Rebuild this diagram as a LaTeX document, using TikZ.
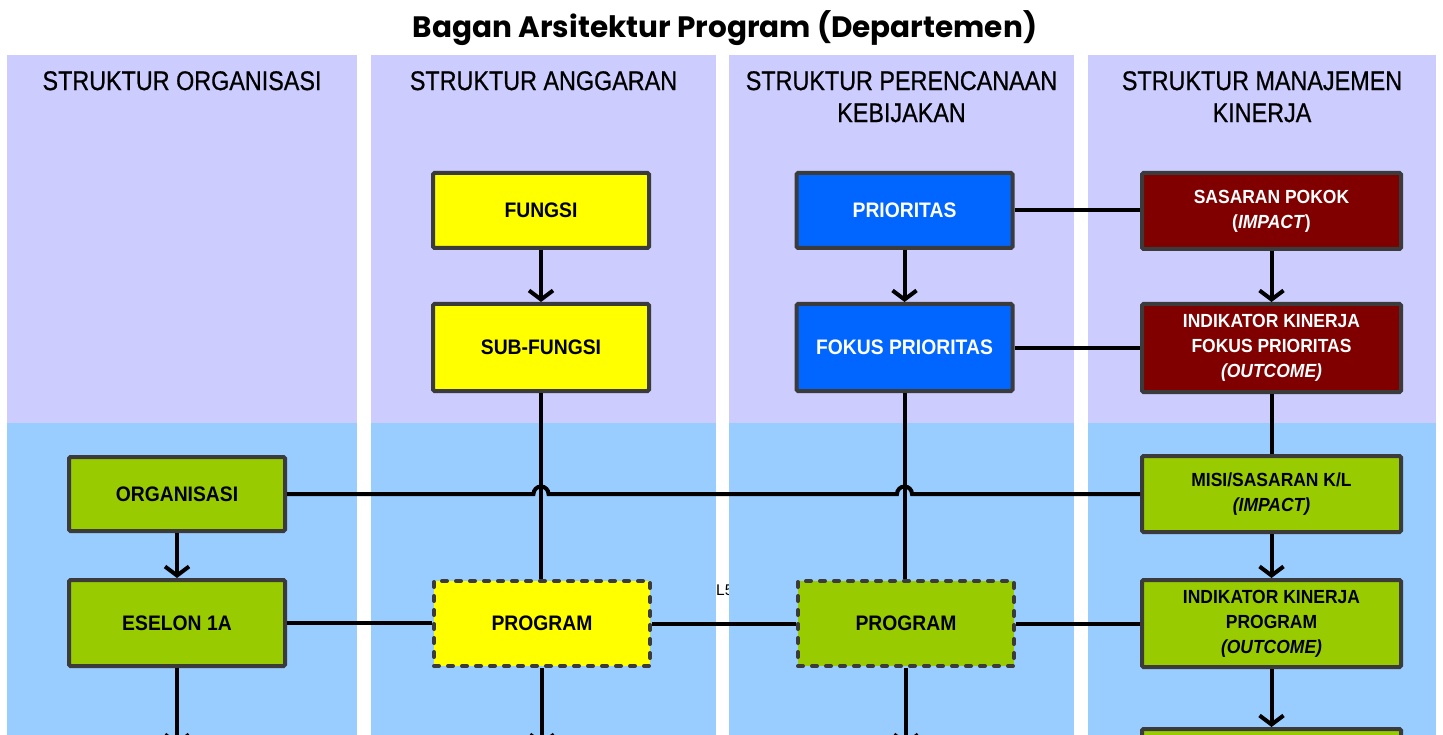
\documentclass[tikz,border=0pt]{standalone}
\usepackage{fontspec}
\setmainfont{Liberation Sans}
\newfontfamily\headfont[FakeStretch=0.865,FakeBold=0.6]{Liberation Sans}
\newfontfamily\boxfont[FakeStretch=0.92]{Liberation Sans}
\newfontfamily\titlefont{Poppins}
\usetikzlibrary{arrows.meta}

\definecolor{lav}{HTML}{CCCCFF}
\definecolor{sky}{HTML}{99CCFF}
\definecolor{yel}{HTML}{FFFF00}
\definecolor{pblue}{HTML}{0066FF}
\definecolor{maroon}{HTML}{800000}
\definecolor{lime}{HTML}{99CC00}
\definecolor{edge}{HTML}{3B3B3B}

\begin{document}
\begin{tikzpicture}[x=1pt,y=-1pt,
  box/.style={draw=edge, line width=4pt, rounded corners=1.5pt, inner sep=0pt,
    align=center, minimum width=216pt, text=black,
    font=\boxfont\bfseries\fontsize{21}{25}\selectfont},
  wbox/.style={box, minimum width=259pt, font=\boxfont\bfseries\fontsize{19}{25}\selectfont},
  dashbox/.style={box, rounded corners=0pt, dash pattern=on 5pt off 9pt, line cap=round},
  head/.style={anchor=north, inner sep=0pt, align=center,
    font=\headfont\fontsize{27}{32}\selectfont},
  link/.style={line width=4pt, black},
  arr/.style={link, -{Straight Barb[length=9pt,width=24pt]}}]

\clip (0,0) rectangle (1443,735);
\fill[white] (0,0) rectangle (1443,735);

% label peeking out between the second and third lanes
\node[anchor=base west, inner sep=0pt, font=\fontsize{15.5}{16}\selectfont] (stray) at (716,595) {L5};

% four lanes: upper (policy) and lower (organisation) bands
\foreach \a/\b in {7/357, 371/716, 729/1074, 1088/1436} {
  \fill[lav] (\a,55) rectangle (\b,423);
  \fill[sky] (\a,423) rectangle (\b,735);
}

% title and lane headings
\node[anchor=base, inner sep=0pt, font=\titlefont\bfseries\fontsize{29.5}{32}\selectfont] (title) at (725,38)
  {Bagan Arsitektur Program (Departemen)};
\node[head] (h1) at (182,71) {STRUKTUR ORGANISASI};
\node[head] (h2) at (543.5,71) {STRUKTUR ANGGARAN};
\node[head] (h3) at (901.5,71) {STRUKTUR PERENCANAAN\\KEBIJAKAN};
\node[head] (h4) at (1262,71) {STRUKTUR MANAJEMEN\\KINERJA};

% budget structure
\node[box, fill=yel, minimum height=75pt] (fungsi) at (541,210.5) {FUNGSI};
\node[box, fill=yel, minimum height=87pt] (sub) at (541,347.5) {SUB-FUNGSI};
\node[dashbox, fill=yel, minimum height=85pt] (progA) at (542,623.5) {PROGRAM};

% policy planning structure
\node[box, fill=pblue, text=white, minimum height=75pt] (prio) at (904.5,210.5) {PRIORITAS};
\node[box, fill=pblue, text=white, minimum height=87pt] (fokus) at (904.5,347.5) {FOKUS PRIORITAS};
\node[dashbox, fill=lime, minimum height=85pt] (progB) at (906,623.5) {PROGRAM};

% performance management structure
\node[wbox, fill=maroon, text=white, minimum height=76pt] (sasaran) at (1271.5,211)
  {SASARAN POKOK\\(\textit{IMPACT})};
\node[wbox, fill=maroon, text=white, minimum height=88pt] (ikfp) at (1271.5,348)
  {INDIKATOR KINERJA\\FOKUS PRIORITAS\\\textit{(OUTCOME)}};
\node[wbox, fill=lime, minimum height=76pt] (misi) at (1271.5,494)
  {MISI/SASARAN K/L\\\textit{(IMPACT)}};
\node[wbox, fill=lime, minimum height=87pt] (ikp) at (1271.5,623.5)
  {INDIKATOR KINERJA\\PROGRAM\\\textit{(OUTCOME)}};
\node[wbox, fill=lime, minimum height=80pt] (next) at (1271.5,769) {};

% organisation structure
\node[box, fill=lime, minimum height=74pt] (org) at (177,494) {ORGANISASI};
\node[box, fill=lime, minimum height=86pt] (eselon) at (177,623) {ESELON 1A};

% free ends of the downward arrows
\coordinate (eselonOut) at (177,746);
\coordinate (progAOut) at (542,746);
\coordinate (progBOut) at (906,746);

% vertical connectors
\draw[arr] (fungsi) -- (sub);
\draw[arr] (prio) -- (fokus);
\draw[arr] (sasaran) -- (ikfp);
\draw[link] (ikfp) -- (misi);
\draw[arr] (misi) -- (ikp);
\draw[arr] (ikp) -- (next);
\draw[link] (sub.south) -- (sub.south |- progA.north);
\draw[link] (fokus.south) -- (fokus.south |- progB.north);
\draw[arr] (org) -- (eselon);
\draw[arr] (eselon.south) -- (eselonOut);
\draw[arr] (progA.south) -- (progAOut);
\draw[arr] (progB.south) -- (progBOut);

% horizontal connectors
\draw[link] (prio.east) -- (prio.east -| sasaran.west);
\draw[link] (fokus.east) -- (fokus.east -| ikfp.west);
\draw[link] (org.east) -- ([xshift=-7.5pt]org.east -| sub.south)
  arc[start angle=180, end angle=0, radius=7.5pt]
  -- ([xshift=-7.5pt]org.east -| fokus.south)
  arc[start angle=180, end angle=0, radius=7.5pt]
  -- (org.east -| misi.west);
\draw[link] (eselon.east) -- (eselon.east -| progA.west);
\draw[link] (progA.east) -- (progA.east -| progB.west);
\draw[link] (progB.east) -- (progB.east -| ikp.west);
\end{tikzpicture}
\end{document}
